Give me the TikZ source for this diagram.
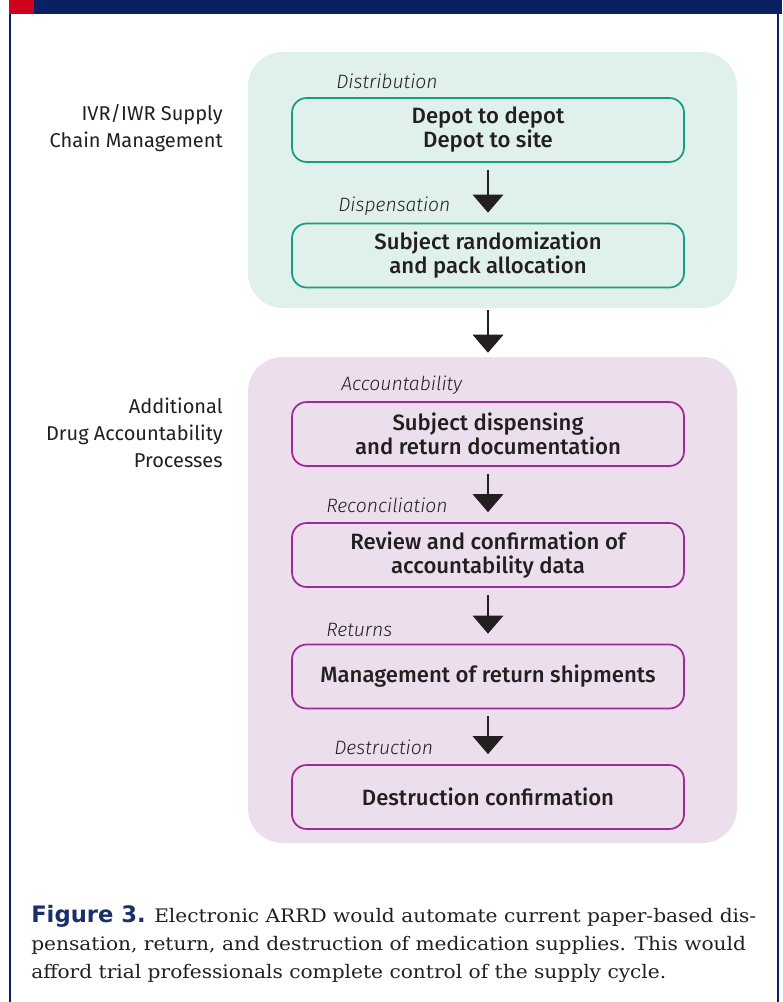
\documentclass[tikz,border=0pt]{standalone}
\usepackage{fontspec}
\setmainfont{DejaVu Serif}[FakeStretch=1.08]
\setsansfont{Fira Sans}
\newfontfamily\boxfont{Fira Sans Medium}
\newfontfamily\phasefont{Fira Sans Light Italic}
\newfontfamily\figfont{DejaVu Sans}
\usetikzlibrary{arrows.meta}

\definecolor{barnavy}{HTML}{0A2062}
\definecolor{capred}{HTML}{D0021B}
\definecolor{capnavy}{HTML}{1B2F6B}
\definecolor{ink}{HTML}{231F20}
\definecolor{supplybg}{HTML}{E0F1EB}
\definecolor{supplyline}{HTML}{199A82}
\definecolor{accntbg}{HTML}{ECDEEC}
\definecolor{accntline}{HTML}{9E2A98}

\begin{document}
\begin{tikzpicture}[x=0.75pt, y=-0.75pt,
    panel/.style={rounded corners=26pt, minimum width=366.75pt, inner sep=0pt},
    stagebox/.style={draw=#1, line width=1.3pt, rounded corners=11pt,
      minimum width=294pt, minimum height=48pt, align=center, text=ink,
      font=\boxfont\fontsize{16.6pt}{18pt}\selectfont},
    phase/.style={anchor=base west, inner sep=0pt, text=ink,
      font=\phasefont\fontsize{14.5pt}{17pt}\selectfont},
    group/.style={anchor=north east, inner sep=0pt, align=right, text=ink,
      font=\sffamily\fontsize{15pt}{20pt}\selectfont},
    flow/.style={-{Triangle[width=23pt,length=13.5pt]}, line width=0.8pt,
      draw=ink, fill=ink, shorten <=5.25pt, shorten >=7.5pt}]
  \useasboundingbox (0,0) rectangle (782,1002);

  % frame
  \fill[barnavy] (9,0) rectangle (782,14);
  \fill[capred] (9,0) rectangle (34,14);
  \draw[barnavy, line width=1.8pt] (10,14) -- (10,1002);
  \draw[barnavy, line width=1.8pt] (778,14) -- (778,1002);

  % panels
  \node[panel, fill=supplybg, minimum height=192pt] (supply) at (492.5,180) {};
  \node[panel, fill=accntbg, minimum height=364.5pt] (accnt) at (492.5,600) {};

  % group labels
  \node[group] (ivrlbl) at (223,104) {IVR/IWR Supply\\Chain Management};
  \node[group] (druglbl) at (223,398) {Additional\\Drug Accountability\\Processes};

  % stages
  \node[stagebox=supplyline] (depot) at (488,130) {Depot to depot\\Depot to site};
  \node[stagebox=supplyline] (alloc) at (488,255.5) {Subject randomization\\and pack allocation};
  \node[stagebox=accntline] (dispdoc) at (488,434) {Subject dispensing\\and return documentation};
  \node[stagebox=accntline] (review) at (488,555) {Review and confirmation of\\accountability data};
  \node[stagebox=accntline] (shipret) at (488,676.5) {Management of return shipments};
  \node[stagebox=accntline] (destroy) at (488,797) {Destruction confirmation};

  % phase names
  \node[phase] (distlbl) at (336,89) {Distribution};
  \node[phase] (displbl) at (338,211) {Dispensation};
  \node[phase] (acclbl) at (341,390) {Accountability};
  \node[phase] (reclbl) at (326,512) {Reconciliation};
  \node[phase] (retlbl) at (326,636) {Returns};
  \node[phase] (deslbl) at (334,754) {Destruction};

  % arrows
  \foreach \a/\b in {depot/alloc, dispdoc/review, review/shipret, shipret/destroy}
    \draw[flow] (\a) -- (\b);
  \draw[flow, shorten <=1.5pt, shorten >=3pt] (supply.south -| alloc) -- (accnt.north -| alloc);

  % caption
  \node[anchor=north west, inner sep=0pt, align=left, text=ink,
    font=\fontsize{14pt}{21pt}\selectfont] (caption) at (31,905)
    {{\figfont\bfseries\fontsize{17pt}{21pt}\selectfont\color{capnavy}Figure 3.} Electronic ARRD would automate current paper-based dis-\\
     pensation, return, and destruction of medication supplies. This would\\
     afford trial professionals complete control of the supply cycle.};
\end{tikzpicture}
\end{document}
